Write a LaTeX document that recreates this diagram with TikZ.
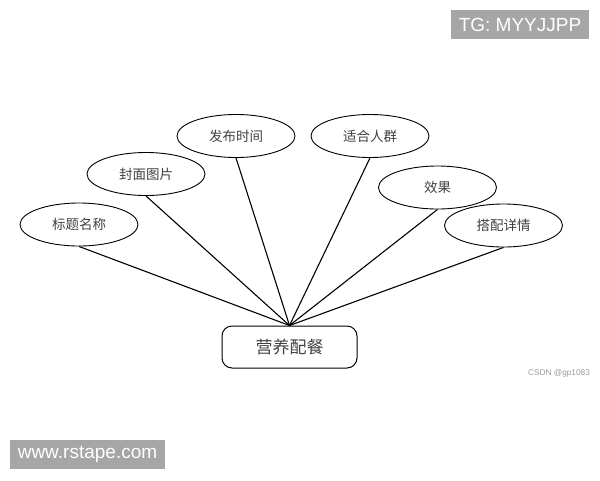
\documentclass[tikz,border=0pt]{standalone}
\usepackage{fontspec}
\setmainfont{Liberation Sans}
\newfontfamily\cjk{Noto Sans CJK SC}
\usetikzlibrary{shapes.geometric}
\definecolor{wmgray}{HTML}{A6A6A6}
\tikzset{
  attr/.style={draw, line width=0.9pt, ellipse, minimum width=118pt, minimum height=43pt, inner sep=0pt, font=\cjk\fontsize{13.5}{14}\selectfont, text=black!75},
  entity/.style={draw, line width=1pt, rounded corners=10pt, minimum width=135pt, minimum height=42pt, inner sep=0pt, font=\cjk\fontsize{17}{18}\selectfont, text=black!75},
  link/.style={line width=1.1pt},
  wm/.style={fill=wmgray, text=white, inner sep=0pt, font=\fontsize{19}{20}\selectfont}
}
\begin{document}
\begin{tikzpicture}[x=1pt,y=-1pt]
\useasboundingbox (0,0) rectangle (600,480);
\node[entity] (m) at (289.5,347) {营养配餐};
\node[attr] (a1) at (79,224.5) {标题名称};
\node[attr] (a2) at (146,174) {封面图片};
\node[attr] (a3) at (236,136) {发布时间};
\node[attr] (a4) at (370,136) {适合人群};
\node[attr] (a5) at (437.5,187.5) {效果};
\node[attr] (a6) at (503.5,225.5) {搭配详情};
\foreach \n in {a1,a2,a3,a4,a5,a6} \draw[link] (\n.south) -- (m.north);
\node[wm, minimum width=138pt, minimum height=29pt] (w1) at (520,24.5) {TG: MYYJJPP};
\node[wm, minimum width=155pt, minimum height=29pt] (w2) at (87.5,454.5) {www.rstape.com};
\node[text=black!40, font=\fontsize{8.3}{9}\selectfont, inner sep=0pt] (w3) at (559,373) {CSDN @gp1083};
\end{tikzpicture}
\end{document}
